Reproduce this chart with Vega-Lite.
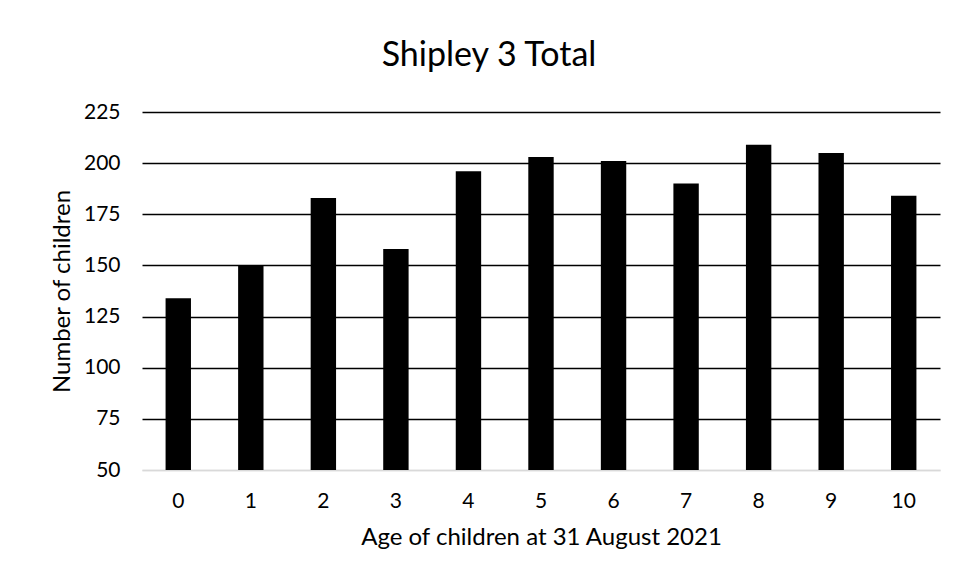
{
  "$schema": "https://vega.github.io/schema/vega-lite/v6.json",
  "autosize": "none",
  "width": 798,
  "height": 358,
  "padding": {"left": 142, "top": 112, "right": 17, "bottom": 113},
  "background": "white",
  "title": {
    "text": "Shipley 3 Total",
    "font": "Lato",
    "fontSize": 34,
    "fontWeight": "normal",
    "color": "black",
    "anchor": "middle",
    "dx": -52,
    "baseline": "alphabetic",
    "offset": 1
  },
  "data": {
    "values": [
      {"age": "0", "children": 134},
      {"age": "1", "children": 150},
      {"age": "2", "children": 183},
      {"age": "3", "children": 158},
      {"age": "4", "children": 196},
      {"age": "5", "children": 203},
      {"age": "6", "children": 201},
      {"age": "7", "children": 190},
      {"age": "8", "children": 209},
      {"age": "9", "children": 205},
      {"age": "10", "children": 184}
    ]
  },
  "mark": {"type": "bar", "color": "black", "clip": true},
  "encoding": {
    "x": {
      "field": "age",
      "type": "ordinal",
      "sort": null,
      "scale": {"paddingInner": 0.65, "paddingOuter": 0.325},
      "axis": {
        "title": "Age of children at 31 August 2021",
        "labelAngle": 0,
        "labelFont": "Lato",
        "labelFontSize": 21,
        "labelColor": "black",
        "labelPadding": 20,
        "ticks": false,
        "domain": true,
        "domainColor": "#d9d9d9",
        "domainWidth": 1.5,
        "titleFont": "Lato",
        "titleFontSize": 24,
        "titleFontWeight": "normal",
        "titleColor": "black",
        "titlePadding": 14
      }
    },
    "y": {
      "field": "children",
      "type": "quantitative",
      "scale": {"domain": [50, 225], "nice": false, "zero": false},
      "axis": {
        "title": "Number of children",
        "values": [50, 75, 100, 125, 150, 175, 200, 225],
        "labelFont": "Lato",
        "labelFontSize": 21,
        "labelColor": "black",
        "labelPadding": 22,
        "ticks": false,
        "domain": false,
        "grid": true,
        "gridColor": {
          "condition": {"test": "datum.value === 50", "value": "#d9d9d9"},
          "value": "black"
        },
        "gridWidth": 1.5,
        "titleFont": "Lato",
        "titleFontSize": 24,
        "titleFontWeight": "normal",
        "titleColor": "black",
        "titlePadding": 9
      }
    },
    "y2": {"datum": 50}
  },
  "config": {"view": {"stroke": null}}
}
